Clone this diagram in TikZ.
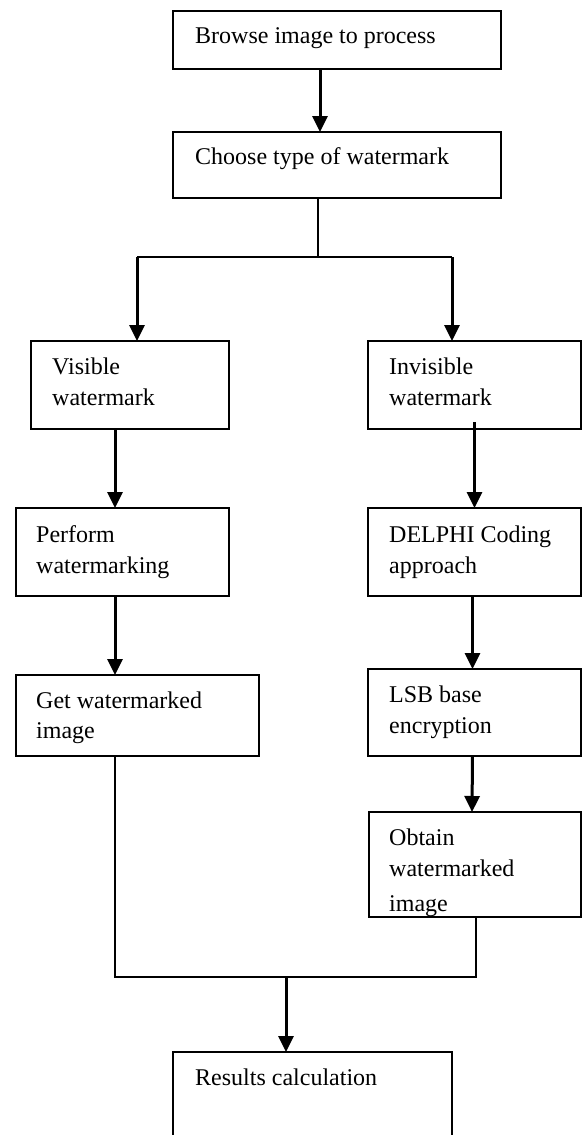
\documentclass[tikz,border=0pt]{standalone}
\usepackage{fontspec}
\setmainfont{Liberation Serif}
\usetikzlibrary{arrows.meta,calc}
\begin{document}
\begin{tikzpicture}[x=1pt,y=-1pt,
  box/.style={draw=black,line width=2.3pt,fill=white,anchor=north west,inner sep=0pt,outer sep=0pt},
  txt/.style={anchor=base west,inner sep=0pt,font=\fontsize{24}{31}\selectfont},
  arr/.style={line width=3pt,-{Triangle[length=16pt,width=15pt]}},
  ln/.style={line width=2.4pt}]
\useasboundingbox (0,0) rectangle (582,1135);
% boxes
\node[box,minimum width=328pt,minimum height=58pt] (b1) at (173,11) {};
\node[box,minimum width=328pt,minimum height=66pt] (b2) at (173,132) {};
\node[box,minimum width=198pt,minimum height=88pt] (vis) at (31,341) {};
\node[box,minimum width=213pt,minimum height=88pt] (inv) at (368,341) {};
\node[box,minimum width=213pt,minimum height=88pt] (perf) at (16,508) {};
\node[box,minimum width=213pt,minimum height=88pt] (del) at (368,508) {};
\node[box,minimum width=243pt,minimum height=81pt] (get) at (16,675) {};
\node[box,minimum width=213pt,minimum height=87pt] (lsb) at (368,669) {};
\node[box,minimum width=212pt,minimum height=105pt] (obt) at (369,812) {};
\node[box,minimum width=279pt,minimum height=100pt] (res) at (173,1052) {};
% texts
\node[txt] (t1) at (195,43) {Browse image to process};
\node[txt] (t2) at (195,164) {Choose type of watermark};
\node[txt] (t3a) at (52,374) {Visible};
\node[txt] (t3b) at (52,405) {watermark};
\node[txt] (t4a) at (389,374) {Invisible};
\node[txt] (t4b) at (389,405) {watermark};
\node[txt] (t5a) at (36,542) {Perform};
\node[txt] (t5b) at (36,573) {watermarking};
\node[txt] (t6a) at (389,542) {DELPHI Coding};
\node[txt] (t6b) at (389,573) {approach};
\node[txt] (t7a) at (36,708) {Get watermarked};
\node[txt] (t7b) at (36,738) {image};
\node[txt] (t8a) at (389,702) {LSB base};
\node[txt] (t8b) at (389,733) {encryption};
\node[txt] (t9a) at (389,845) {Obtain};
\node[txt] (t9b) at (389,876) {watermarked};
\begin{scope}
\clip (obt.north west) rectangle ([yshift=2pt]obt.south east);
\node[txt] (t9c) at (389,911) {image};
\end{scope}
\draw[line width=2.3pt] (obt.south west) -- (obt.south east);
\node[txt] (t10) at (195,1085) {Results calculation};
% connectors
\coordinate (s1) at (320,69);
\coordinate (s2) at (318,198);
\coordinate (sp) at (318,257);
\coordinate (jl) at (137,257);
\coordinate (jr) at (452,257);
\coordinate (m1) at (115,977);
\coordinate (m2) at (476,977);
\coordinate (mj) at (286,977);
\draw[arr] (s1) -- (s1 |- b2.north);
\draw[ln] (s2) -- (sp);
\draw[ln] (jl) -- (jr);
\draw[arr] (jl) -- (jl |- vis.north);
\draw[arr] (jr) -- (jr |- inv.north);
\draw[arr] ([xshift=-15pt]vis.south) -- ([xshift=-7.5pt]perf.north);
\draw[arr] ([xshift=-7.5pt]perf.south) -- ([xshift=-22.5pt]get.north);
\draw[arr] ([yshift=7pt]inv.south) -- (del.north);
\draw[arr] ([xshift=-2pt]del.south) -- ([xshift=-2pt]lsb.north);
\draw[arr] ([xshift=-2pt]lsb.south) -- ([xshift=-3pt]obt.north);
\draw[ln] ([xshift=-22.5pt]get.south) -- (m1) -- (m2) -- (m2 |- obt.south);
\draw[arr] (mj) -- (mj |- res.north);
\end{tikzpicture}
\end{document}
